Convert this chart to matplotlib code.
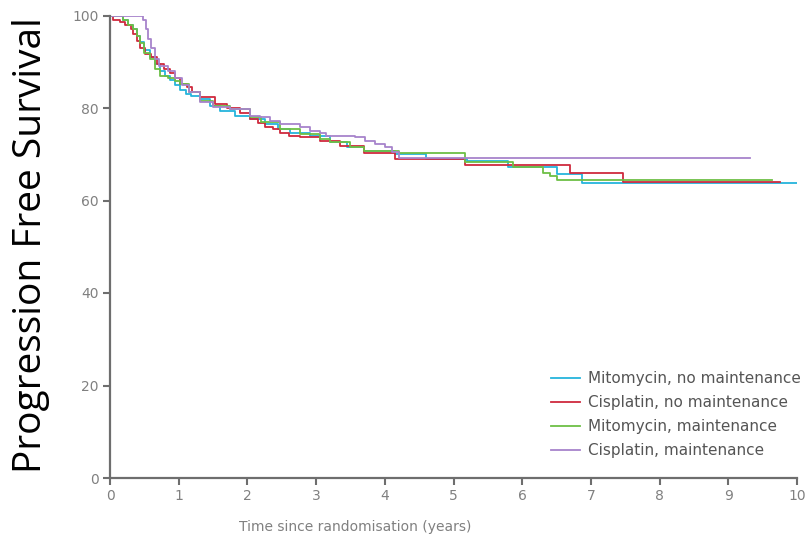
import matplotlib
matplotlib.use("Agg")
import matplotlib.pyplot as plt

# Kaplan-Meier step curves: (time in years, % progression free)
mito_no_t = [0, 0.19, 0.26, 0.33, 0.40, 0.44, 0.50, 0.58, 0.65, 0.73, 0.80, 0.88,
             0.95, 1.02, 1.10, 1.18, 1.31, 1.45, 1.60, 1.82, 2.04, 2.26, 2.45, 2.62,
             2.91, 3.20, 3.45, 3.70, 4.15, 4.60, 5.20, 5.80, 6.50, 6.87, 10.0]
mito_no_s = [100, 99, 98, 97, 95.5, 94.2, 92.5, 91, 89.5, 88, 87, 86,
             85, 84, 83, 82.5, 81.9, 80.5, 79.3, 78.2, 77.6, 76.5, 75.4, 74.5,
             73.9, 72.6, 71.5, 70.6, 70.0, 68.9, 68.5, 67.2, 65.7, 63.7, 63.7]

cis_no_t = [0, 0.05, 0.15, 0.22, 0.30, 0.34, 0.40, 0.44, 0.51, 0.60, 0.68, 0.78,
            0.87, 0.95, 1.02, 1.12, 1.20, 1.31, 1.53, 1.70, 1.89, 2.04, 2.15, 2.26,
            2.37, 2.47, 2.60, 2.77, 3.06, 3.35, 3.70, 4.15, 5.17, 6.70, 7.47, 9.75]
cis_no_s = [100, 99, 98.5, 98, 97, 96, 94.5, 93, 91.6, 91, 89.5, 88.5,
            87.5, 86.5, 85.2, 84.5, 83.5, 82.3, 80.8, 80.0, 79.0, 77.6, 76.8, 76.0,
            75.4, 74.7, 74.0, 73.7, 72.8, 71.7, 70.2, 69.0, 67.6, 66.0, 63.9, 63.9]

mito_m_t = [0, 0.19, 0.26, 0.33, 0.40, 0.44, 0.50, 0.58, 0.65, 0.73, 0.85, 0.95,
            1.02, 1.15, 1.31, 1.50, 1.75, 2.04, 2.20, 2.47, 2.77, 3.06, 3.20, 3.50,
            3.70, 4.20, 5.17, 5.87, 6.30, 6.40, 6.50, 9.64]
mito_m_s = [100, 99, 98, 97, 95.5, 94, 92, 90.5, 88.5, 87, 86.5, 85.8,
            85.2, 83.5, 81.5, 80.5, 79.7, 78.0, 77.0, 75.4, 74.3, 73.2, 72.6, 71.5,
            70.8, 70.2, 68.3, 67.2, 66.0, 65.2, 64.4, 64.4]

cis_m_t = [0, 0.48, 0.52, 0.56, 0.60, 0.65, 0.72, 0.85, 0.95, 1.05, 1.15, 1.31,
           1.50, 1.75, 2.04, 2.18, 2.33, 2.47, 2.77, 2.91, 3.06, 3.15, 3.57, 3.71,
           3.86, 4.00, 4.10, 4.20, 9.32]
cis_m_s = [100, 99, 97, 95, 93, 90.5, 89, 88, 86.5, 85, 83.5, 81.2,
           80.3, 79.7, 78.2, 78.0, 77.1, 76.5, 75.8, 75.0, 74.5, 74.0, 73.7, 72.8,
           72.2, 71.5, 70.4, 69.2, 69.2]

ARMS = [
    ("Mitomycin, no maintenance", mito_no_t, mito_no_s, "#25b4dc"),
    ("Cisplatin, no maintenance", cis_no_t, cis_no_s, "#cf2a3e"),
    ("Mitomycin, maintenance", mito_m_t, mito_m_s, "#6dbf45"),
    ("Cisplatin, maintenance", cis_m_t, cis_m_s, "#a783cc"),
]
x_ticks = list(range(0, 11))
y_ticks = [0, 20, 40, 60, 80, 100]

GREY = "#6e6e6e"
fig = plt.figure(figsize=(8.07, 5.34), dpi=100)
ax = fig.add_axes([110 / 807, 1 - 478 / 534, 687 / 807, 462.5 / 534])

for label, t, s, col in ARMS:
    ax.plot(t, s, drawstyle="steps-post", color=col, lw=1.3, label=label)

ax.set_xlim(0, 10)
ax.set_ylim(0, 100)
ax.set_xticks(x_ticks)
ax.set_yticks(y_ticks)
for side in ("top", "right"):
    ax.spines[side].set_visible(False)
for side in ("left", "bottom"):
    ax.spines[side].set_color(GREY)
    ax.spines[side].set_linewidth(1.6)
ax.tick_params(direction="out", length=5, width=1.5, color=GREY,
               labelcolor="#808080", labelsize=10, pad=3)

leg = ax.legend(loc="upper left", bbox_to_anchor=(551 / 807, 1 - 371 / 534),
                bbox_transform=fig.transFigure, frameon=False, fontsize=11,
                borderpad=0, borderaxespad=0, handlelength=1.9,
                handletextpad=0.5, labelspacing=0.6)
for txt in leg.get_texts():
    txt.set_color("#555555")

fig.text(355 / 807, 1 - 527 / 534, "Time since randomisation (years)",
         ha="center", va="center", color="#808080", fontsize=10)
fig.text(31 / 807, 1 - 245 / 534, "Progression Free Survival", rotation=90,
         ha="center", va="center", color="black", fontsize=28,
         family="Open Sans")

fig.savefig("out.png", dpi=100)
